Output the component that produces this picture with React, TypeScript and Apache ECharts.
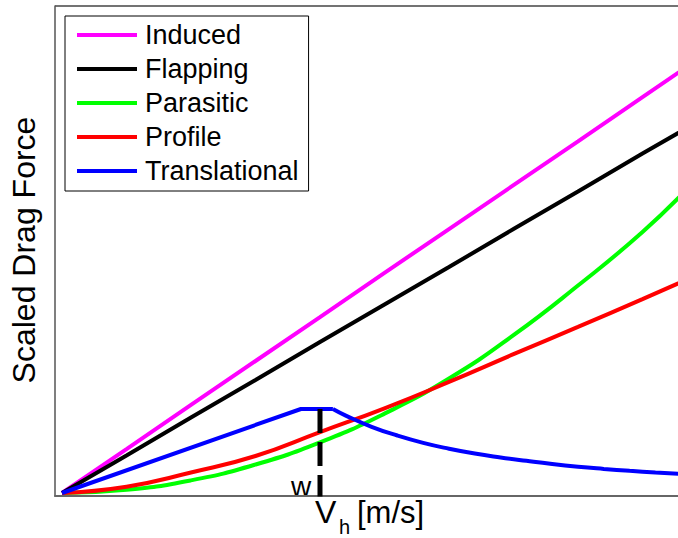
import React, { useEffect, useRef } from "react";
import * as echarts from "echarts";

// Airspeed in units of the hover-induced velocity (V / Vh)
const speedGrid = [0, 0.25, 0.5, 0.75, 1.0, 1.25, 1.5, 1.75, 2.0, 2.25, 2.43];
const induced = [0, 9.0, 18.1, 27.1, 36.1, 45.2, 54.2, 63.2, 72.2, 81.3, 87.8];
const flapping = [0, 7.7, 15.5, 23.2, 31.0, 38.7, 46.4, 54.2, 61.9, 69.7, 75.2];
const parasitic = [0, 0.65, 2.6, 5.85, 10.4, 16.3, 23.5, 32.4, 42.6, 53.6, 62.8];
const profile = [0, 1.3, 4.2, 7.6, 12.5, 17.4, 22.8, 28.5, 34.1, 39.8, 44.0];

// Translational lift: linear rise, short plateau, then decay
const transRiseSpeed = [0, 0.926, 1.05];
const transRise = [0, 17.25, 17.25];
const transDecaySpeed = [1.05, 1.1, 1.2, 1.3, 1.4, 1.5, 1.6, 1.7, 1.8, 1.9, 2.0, 2.1, 2.2, 2.3, 2.43];
const transDecay = [17.25, 15.9, 13.6, 11.8, 10.3, 9.1, 8.1, 7.3, 6.6, 5.95, 5.4, 4.95, 4.55, 4.2, 3.8];

const seriesNames = ["Induced", "Flapping", "Parasitic", "Profile", "Translational"];
const seriesColors = ["#ff00ff", "#000000", "#00ff00", "#ff0000", "#0000ff"];

const vhMarker = [[1, 17.25], [1, -0.7]];

const FONT = "'Liberation Sans', Arial, Helvetica, sans-serif";

function zip(xs: number[], ys: number[]) {
  return xs.map((x, i) => [x, ys[i]]);
}

export default function App() {
  const ref = useRef<HTMLDivElement>(null);
  useEffect(() => {
    if (!ref.current) return;
    const chart = echarts.init(ref.current, null, { renderer: "svg" });
    const lineSeries = (name: string, data: number[][], color: string, smooth: boolean | number) => ({
      name,
      type: "line",
      data,
      smooth,
      showSymbol: false,
      symbol: "none",
      lineStyle: { color, width: 4 },
      itemStyle: { color },
      z: 2,
    });
    chart.setOption({
      animation: false,
      backgroundColor: "#ffffff",
      grid: {
        left: 55,
        top: 6,
        right: 0,
        bottom: 42,
        show: false,
      },
      xAxis: {
        type: "value",
        min: -0.0271,
        max: 2.3876,
        axisLine: { show: true, onZero: false, lineStyle: { color: "#666666", width: 2 } },
        axisTick: { show: false },
        axisLabel: { show: false },
        splitLine: { show: false },
      },
      yAxis: {
        type: "value",
        min: -0.616,
        max: 100,
        axisLine: { show: true, onZero: false, lineStyle: { color: "#555555", width: 1.5 } },
        axisTick: { show: false },
        axisLabel: { show: false },
        splitLine: { show: false },
      },
      legend: {
        data: seriesNames,
        orient: "vertical",
        left: 65,
        top: 16,
        padding: [4, 10, 5, 12],
        itemWidth: 60,
        itemHeight: 4,
        itemGap: 4,
        icon: "rect",
        backgroundColor: "#ffffff",
        borderColor: "#000000",
        borderWidth: 1,
        textStyle: {
          fontSize: 27,
          lineHeight: 30,
          fontFamily: FONT,
          color: "#000000",
          padding: [0, 0, 0, 3],
        },
      },
      series: [
        lineSeries(seriesNames[0], zip(speedGrid, induced), seriesColors[0], false),
        lineSeries(seriesNames[1], zip(speedGrid, flapping), seriesColors[1], false),
        lineSeries(seriesNames[2], zip(speedGrid, parasitic), seriesColors[2], true),
        lineSeries(seriesNames[3], zip(speedGrid, profile), seriesColors[3], true),
        lineSeries(seriesNames[4], zip(transRiseSpeed, transRise), seriesColors[4], false),
        lineSeries(seriesNames[4], zip(transDecaySpeed, transDecay), seriesColors[4], true),
        {
          name: "Vh",
          type: "line",
          data: vhMarker,
          symbol: "none",
          lineStyle: { color: "#000000", width: 5, type: [24, 9], cap: "butt" },
          z: 3,
        },
      ],
      graphic: [
        {
          type: "line",
          shape: { x1: 55, y1: 6, x2: 678, y2: 6 },
          style: { stroke: "#444444", lineWidth: 1.5 },
        },
        {
          type: "text",
          x: 24,
          y: 250,
          rotation: Math.PI / 2,
          style: {
            text: "Scaled Drag Force",
            fontSize: 32,
            fontFamily: FONT,
            fill: "#000000",
            align: "center",
            verticalAlign: "middle",
          },
        },
        {
          type: "text",
          x: 291,
          y: 486,
          style: {
            text: "w",
            fontSize: 28,
            fontFamily: FONT,
            fill: "#000000",
            align: "left",
            verticalAlign: "middle",
          },
        },
        {
          type: "text",
          x: 315,
          y: 512,
          style: {
            text: "V",
            fontSize: 32,
            fontFamily: FONT,
            fill: "#000000",
            align: "left",
            verticalAlign: "middle",
          },
        },
        {
          type: "text",
          x: 339,
          y: 527,
          style: {
            text: "h",
            fontSize: 20,
            fontFamily: FONT,
            fill: "#000000",
            align: "left",
            verticalAlign: "middle",
          },
        },
        {
          type: "text",
          x: 357,
          y: 512,
          style: {
            text: "[m/s]",
            fontSize: 31,
            fontFamily: FONT,
            fill: "#000000",
            align: "left",
            verticalAlign: "middle",
          },
        },
      ],
    });
    return () => chart.dispose();
  }, []);
  return (
    <div
      ref={ref}
      style={{ position: "absolute", left: 0, top: 0, width: 678, height: 538 }}
    />
  );
}
